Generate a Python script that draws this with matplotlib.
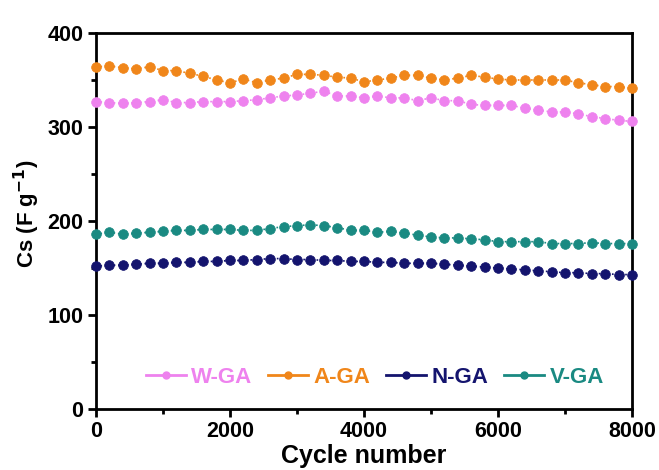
import numpy as np
import matplotlib
matplotlib.use("Agg")
import matplotlib.pyplot as plt
from matplotlib.ticker import MultipleLocator

plt.rcParams['font.family'] = ['Liberation Sans', 'DejaVu Sans']
plt.rcParams['font.weight'] = 'bold'
plt.rcParams['mathtext.default'] = 'bf'

cycles = list(range(0, 8001, 200))

w_ga = [327, 326, 325, 326, 327, 329, 326, 326, 327, 327, 327,
        328, 329, 331, 333, 334, 336, 338, 333, 333, 331,
        333, 331, 331, 328, 331, 328, 328, 324, 323, 323,
        323, 320, 318, 316, 316, 314, 311, 309, 307, 306]

a_ga = [364, 365, 363, 362, 364, 360, 360, 357, 354, 350, 347,
        351, 347, 350, 352, 356, 356, 355, 353, 352, 348,
        350, 352, 355, 355, 352, 350, 352, 355, 353, 351,
        350, 350, 350, 350, 350, 347, 345, 343, 343, 341]

n_ga = [152, 153, 153, 154, 155, 155, 156, 156, 157, 157, 158,
        158, 159, 160, 160, 159, 159, 158, 158, 157, 157,
        156, 156, 155, 155, 155, 154, 153, 152, 151, 150,
        149, 148, 147, 146, 145, 145, 144, 144, 143, 143]

v_ga = [186, 188, 186, 187, 188, 189, 190, 190, 191, 191, 191,
        190, 190, 192, 194, 195, 196, 195, 193, 190, 190,
        188, 189, 187, 185, 183, 182, 182, 181, 180, 178,
        178, 178, 178, 176, 176, 176, 177, 176, 176, 176]

names = ['W-GA', 'A-GA', 'N-GA', 'V-GA']
colors = ['#EE82EE', '#F0861A', '#14146E', '#1A8A82']
series = [w_ga, a_ga, n_ga, v_ga]

fig = plt.figure(figsize=(6.59, 4.70), dpi=100)
ax = fig.add_axes([0.1457, 0.1298, 0.8133, 0.80])

handles = []
for name, col, vals in zip(names, colors, series):
    ax.plot(cycles, vals, linestyle=':', color=col, linewidth=1.2,
            marker='o', markersize=7, markerfacecolor=col,
            markeredgecolor=col, markeredgewidth=0.5, clip_on=False, zorder=3)
    h, = ax.plot([], [], '-', color=col, linewidth=2, marker='o',
                 markersize=5, markerfacecolor=col, markeredgecolor=col)
    handles.append(h)

ax.set_xlim(0, 8000)
ax.set_ylim(0, 400)
ax.xaxis.set_major_locator(MultipleLocator(2000))
ax.xaxis.set_minor_locator(MultipleLocator(1000))
ax.yaxis.set_major_locator(MultipleLocator(100))
ax.yaxis.set_minor_locator(MultipleLocator(50))
ax.tick_params(which='major', direction='out', length=6, width=2, labelsize=15.5, pad=3)
ax.tick_params(which='minor', direction='out', length=3.5, width=2)
for lab in ax.get_xticklabels() + ax.get_yticklabels():
    lab.set_fontweight('bold')
for s in ax.spines.values():
    s.set_linewidth(2)

ax.set_xlabel('Cycle number', fontsize=18, fontweight='bold', labelpad=1)
ax.set_ylabel('Cs (F g$^{-1}$)', fontsize=16, fontweight='bold')
ax.yaxis.set_label_coords(-0.10, 0.52)

leg = ax.legend(handles, names, loc='center', bbox_to_anchor=(0.52, 0.085),
                ncol=4, frameon=False, handlelength=1.8,
                handletextpad=0.25, columnspacing=0.7,
                prop={'weight': 'bold', 'size': 16})
for t, col in zip(leg.get_texts(), colors):
    t.set_color(col)

fig.savefig('out.png', dpi=100)
